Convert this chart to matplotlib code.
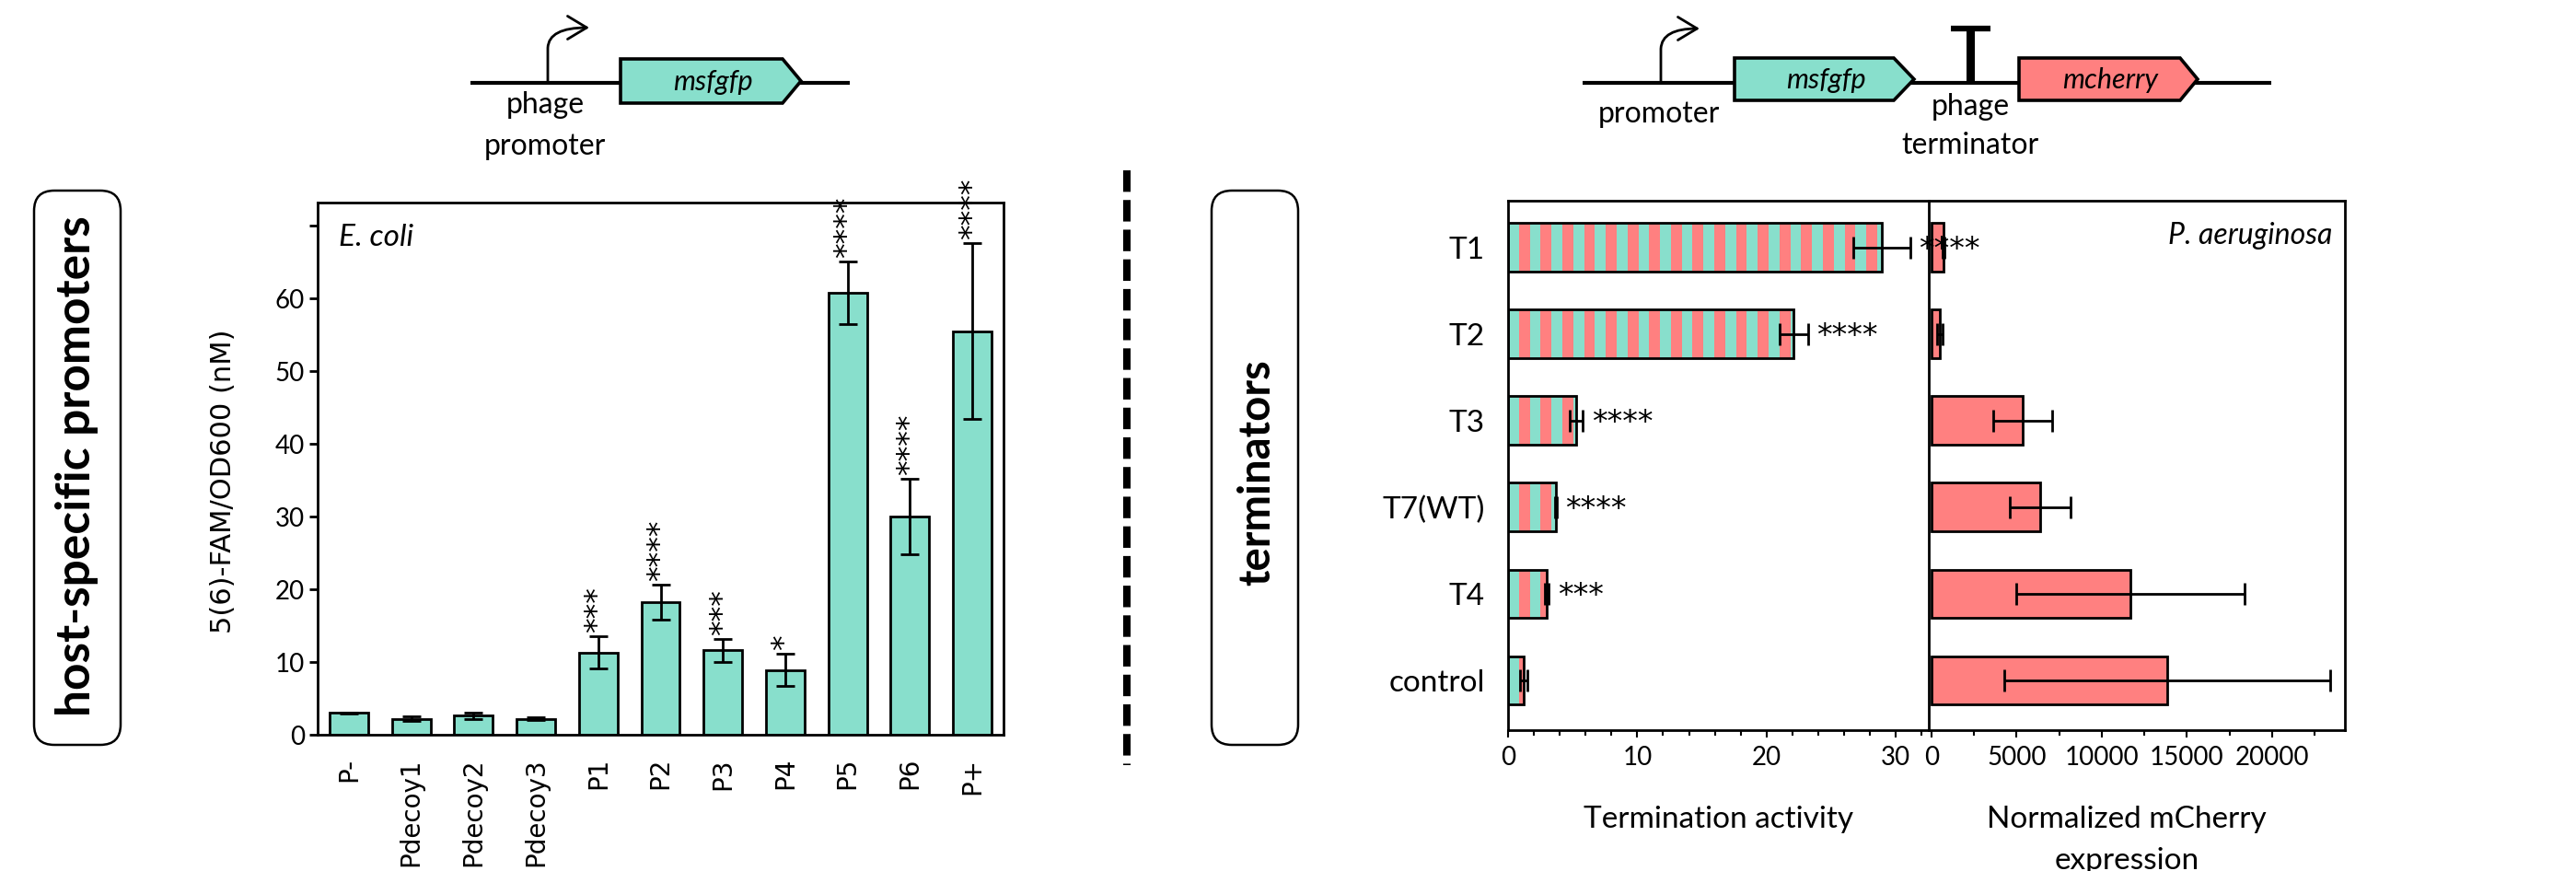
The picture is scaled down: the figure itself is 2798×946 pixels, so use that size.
import numpy as np
import matplotlib
matplotlib.use("Agg")
import matplotlib.pyplot as plt
from matplotlib.patches import Polygon, FancyBboxPatch, FancyArrowPatch
from matplotlib.path import Path
from matplotlib.ticker import MultipleLocator

plt.rcParams['font.family'] = ['Lato', 'DejaVu Sans']

# host-specific promoters, E. coli
promoters = ["P-", "Pdecoy1", "Pdecoy2", "Pdecoy3", "P1", "P2", "P3", "P4", "P5", "P6", "P+"]
fam = [3.0, 2.2, 2.6, 2.2, 11.3, 18.2, 11.6, 8.9, 60.8, 30.0, 55.5]
fam_err = [0.1, 0.3, 0.5, 0.2, 2.2, 2.4, 1.6, 2.2, 4.3, 5.2, 12.1]
fam_sig = ["", "", "", "", "***", "****", "***", "*", "****", "****", "****"]
fam_ticks = [0, 10, 20, 30, 40, 50, 60, 70]

# terminators, P. aeruginosa
terminators = ["T1", "T2", "T3", "T7(WT)", "T4", "control"]
term_act = [28.9, 22.1, 5.3, 3.7, 3.0, 1.2]
term_err = [2.2, 1.1, 0.5, 0.05, 0.15, 0.27]
term_sig = ["****", "****", "****", "****", "***", ""]
mcherry = [700, 500, 5340, 6400, 11700, 13850]
mcherry_err = [40, 150, 1720, 1790, 6700, 9580]

W, H = 2798, 946
TEAL = "#88DFCC"
RED = "#FF8080"
LW = 2.0

fig = plt.figure(figsize=(W / 100, H / 100), dpi=100)

# ---- left: promoter bar chart
ax1 = fig.add_axes([345 / W, 1 - 798 / H, 745 / W, 578 / H])
x = np.arange(len(promoters))
ax1.bar(x, fam, width=0.62, color=TEAL, edgecolor="black", linewidth=LW, zorder=2)
ax1.errorbar(x, fam, yerr=fam_err, fmt="none", ecolor="black", elinewidth=LW,
             capsize=7, capthick=LW, zorder=3)
for xi, v, e, s in zip(x, fam, fam_err, fam_sig):
    if s:
        ax1.annotate(s, (xi, v + e), xytext=(0, 3), textcoords="offset points",
                     rotation=90, ha="center", va="bottom", fontsize=24,
                     family="DejaVu Sans")
ax1.set_xlim(-0.5, 10.5)
ax1.set_ylim(0, 73.2)
ax1.set_yticks(fam_ticks)
ax1.set_yticklabels([str(t) if t <= 60 else "" for t in fam_ticks], fontsize=20)
ax1.set_xticks(x)
ax1.set_xticklabels(promoters, rotation=90, fontsize=20, family="DejaVu Sans")
ax1.tick_params(axis="x", length=0, pad=18)
ax1.tick_params(axis="y", length=6.5, width=LW, direction="out")
ax1.set_ylabel("5(6)-FAM/OD600 (nM)", fontsize=22, family="DejaVu Sans")
ax1.yaxis.set_label_coords(-0.118, 0.476)
ax1.text(0.031, 0.96, "E. coli", transform=ax1.transAxes, style="italic",
         fontsize=24, ha="left", va="top")
for sp in ax1.spines.values():
    sp.set_linewidth(LW)

# ---- right: termination activity
y = np.arange(len(terminators))
ylim = (5.575, -0.539)
ax2 = fig.add_axes([1638 / W, 1 - 793 / H, 457 / W, 575 / H])
ax2.barh(y, term_act, height=0.56, color=TEAL, edgecolor="none", zorder=2)
stripe = 0.84
for yi, v in zip(y, term_act):
    starts = np.arange(stripe, v, 2 * stripe)
    ax2.barh(np.full(len(starts), yi), np.minimum(stripe, v - starts), left=starts,
             height=0.56, color=RED, edgecolor="none", zorder=2)
ax2.barh(y, term_act, height=0.56, facecolor="none", edgecolor="black",
         linewidth=LW, zorder=3)
ax2.errorbar(term_act, y, xerr=term_err, fmt="none", ecolor="black", elinewidth=LW,
             capsize=8.5, capthick=LW, zorder=4)
for yi, v, e, s in zip(y, term_act, term_err, term_sig):
    if s:
        ax2.annotate(s, (v + e, yi), xytext=(7, -2), textcoords="offset points",
                     ha="left", va="center", fontsize=24, family="DejaVu Sans",
                     zorder=6)
ax2.set_xlim(0, 32.55)
ax2.set_ylim(*ylim)
ax2.set_yticks(y)
ax2.set_yticklabels(terminators, fontsize=24)
ax2.tick_params(axis="y", length=0, pad=18)
ax2.set_xticks([0, 10, 20, 30])
ax2.xaxis.set_minor_locator(MultipleLocator(2))
ax2.tick_params(axis="x", which="major", length=6, width=1.5, labelsize=20, pad=6)
ax2.tick_params(axis="x", which="minor", length=4, width=1.5)
ax2.set_xlabel("Termination activity", fontsize=24)
ax2.xaxis.set_label_coords(0.5, -0.143)
ax2.xaxis.label.set_va("top")
for sp in ax2.spines.values():
    sp.set_linewidth(LW)

# ---- right: normalized mCherry
ax3 = fig.add_axes([2095 / W, 1 - 793 / H, 452 / W, 575 / H])
ax3.barh(y, mcherry, height=0.56, color=RED, edgecolor="black", linewidth=LW, zorder=2)
ax3.errorbar(mcherry, y, xerr=mcherry_err, fmt="none", ecolor="black", elinewidth=LW,
             capsize=8.5, capthick=LW, zorder=3)
ax3.set_xlim(-160, 24270)
ax3.set_ylim(*ylim)
ax3.set_yticks([])
ax3.set_xticks([0, 5000, 10000, 15000, 20000])
ax3.xaxis.set_minor_locator(MultipleLocator(2500))
ax3.tick_params(axis="x", which="major", length=6, width=1.5, labelsize=20, pad=6)
ax3.tick_params(axis="x", which="minor", length=4, width=1.5)
ax3.set_xlabel("Normalized mCherry\nexpression", fontsize=24, linespacing=1.6)
ax3.xaxis.set_label_coords(0.475, -0.143)
ax3.xaxis.label.set_va("top")
ax3.text(0.97, 0.96, "P. aeruginosa", transform=ax3.transAxes, style="italic",
         fontsize=23, ha="right", va="top")
for sp in ax3.spines.values():
    sp.set_linewidth(LW)
ax2.spines["right"].set_visible(False)
ax3.set_zorder(ax2.get_zorder() - 1)
ax2.patch.set_visible(False)

# ---- overlay: construct diagrams, labels, separator
ov = fig.add_axes([0, 0, 1, 1], zorder=10)
ov.set_xlim(0, W)
ov.set_ylim(H, 0)
ov.axis("off")


def gene(x0, x1, tip, yc, h, color, label):
    pts = [(x0, yc - h / 2), (x1, yc - h / 2), (tip, yc), (x1, yc + h / 2), (x0, yc + h / 2)]
    ov.add_patch(Polygon(pts, closed=True, fc=color, ec="black", lw=2.6,
                         joinstyle="miter", zorder=3))
    ov.text((x0 + tip) / 2 + 2, yc + 1, label, style="italic", fontsize=22,
            ha="center", va="center", zorder=4)


def promoter_arrow(xp, yb, xt, yt):
    p = Path([(xp, yb), (xp, yt + 22), (xp + 1, yt), (xt, yt)],
             [Path.MOVETO, Path.LINETO, Path.CURVE3, Path.CURVE3])
    ov.add_patch(FancyArrowPatch(path=p, arrowstyle="->,head_length=0.75,head_width=0.45",
                                 mutation_scale=20, lw=2.0, color="black"))


# left construct
ov.plot([511, 923], [90, 90], color="black", lw=3, solid_capstyle="butt", zorder=2)
gene(674, 850, 870, 88, 48, TEAL, "msfgfp")
promoter_arrow(595, 90, 640, 30)
ov.text(592, 123, "phage", fontsize=23, ha="center", va="baseline")
ov.text(592, 168, "promoter", fontsize=23, ha="center", va="baseline")

# right construct
ov.plot([1719, 2467], [90, 90], color="black", lw=3, solid_capstyle="butt", zorder=2)
gene(1884, 2057, 2079, 86, 46, TEAL, "msfgfp")
gene(2193, 2368, 2387, 86, 46, RED, "mcherry")
promoter_arrow(1804, 90, 1846, 31)
ov.plot([2140, 2140], [88, 33], color="black", lw=6.5, solid_capstyle="butt")
ov.plot([2119, 2162], [31, 31], color="black", lw=4.5, solid_capstyle="butt")
ov.text(1802, 133, "promoter", fontsize=23, ha="center", va="baseline")
ov.text(2140, 125, "phage", fontsize=23, ha="center", va="baseline")
ov.text(2140, 167, "terminator", fontsize=23, ha="center", va="baseline")

# separator
ov.plot([1224, 1224], [185, 831], color="black", lw=5.8,
        linestyle=(0, (2.9, 1.1)), solid_capstyle="butt")

# rounded side labels
for bx, tx, ty, fs, label in [(37, 84, 506, 37, "host-specific promoters"),
                              (1316, 1365, 513, 34, "terminators")]:
    ov.add_patch(FancyBboxPatch((bx, 207), 94, 602,
                                boxstyle="round,pad=0,rounding_size=22",
                                fc="white", ec="black", lw=1.8))
    ov.text(tx, ty, label, rotation=90, fontsize=fs, weight="bold",
            ha="center", va="center")

fig.savefig("out.png", dpi=100)
